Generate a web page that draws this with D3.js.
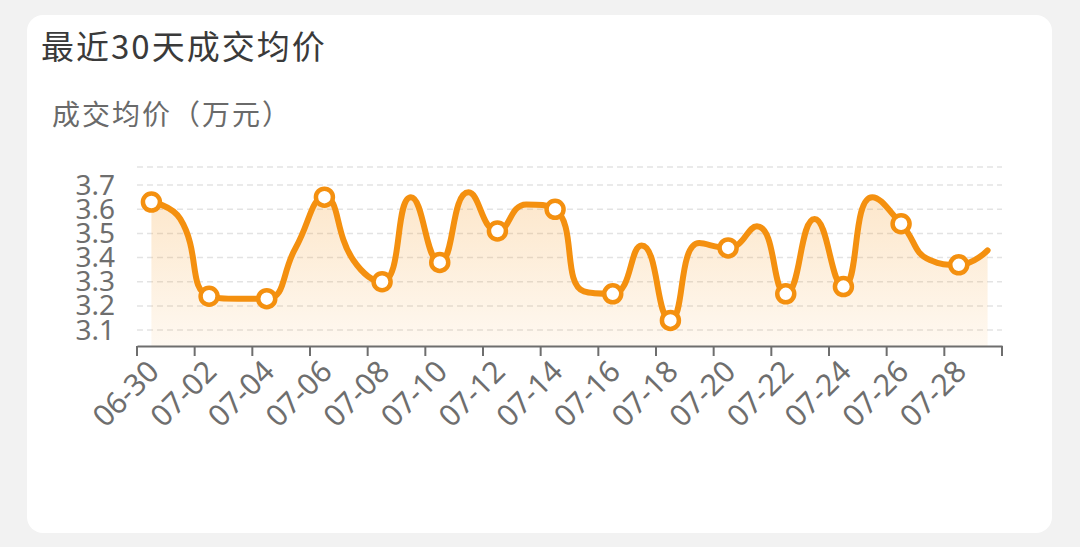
<!DOCTYPE html>
<html>
<head>
<meta charset="utf-8">
<script src="https://cdn.jsdelivr.net/npm/d3@7"></script>
<style>
  html, body { margin: 0; padding: 0; background: #f2f2f2; }
  svg { display: block; font-family: "Noto Sans CJK SC", "Noto Sans", sans-serif; }
</style>
</head>
<body>
<div id="chart"></div>
<script>
// data
const dates = ['06-30', '07-01', '07-02', '07-03', '07-04', '07-05', '07-06', '07-07',
    '07-08', '07-09', '07-10', '07-11', '07-12', '07-13', '07-14', '07-15', '07-16',
    '07-17', '07-18', '07-19', '07-20', '07-21', '07-22', '07-23', '07-24', '07-25',
    '07-26', '07-27', '07-28', '07-29'];
const prices = [3.63, 3.56, 3.24, 3.23, 3.23, 3.44, 3.65, 3.39, 3.30, 3.65, 3.38, 3.67,
    3.51, 3.62, 3.60, 3.26, 3.25, 3.45, 3.14, 3.46, 3.44, 3.53, 3.25, 3.56, 3.28, 3.65,
    3.54, 3.39, 3.37, 3.43];
const yTicks = [3.1, 3.2, 3.3, 3.4, 3.5, 3.6, 3.7];
const yDomain = [3.034, 3.775];

const width = 1080, height = 547;
const orange = '#f4900f';

// smooth curve in the style of echarts (control points clamped to neighbours)
function SmoothCurve(context) { this._context = context; }
SmoothCurve.prototype = {
    areaStart() { this._line = 0; },
    areaEnd() { this._line = NaN; },
    lineStart() { this._pts = []; },
    point(x, y) { this._pts.push([+x, +y]); },
    lineEnd() {
        const pts = this._pts, ctx = this._context, s = 0.5;
        const n = pts.length;
        if (n) {
            if (this._line) ctx.lineTo(pts[0][0], pts[0][1]);
            else ctx.moveTo(pts[0][0], pts[0][1]);
        }
        let cp0 = pts[0];
        for (let i = 1; i < n; i++) {
            const [x, y] = pts[i];
            const [px, py] = pts[i - 1];
            let cp1 = [x, y], next0 = [x, y];
            if (i < n - 1) {
                const [nx, ny] = pts[i + 1];
                const d0 = Math.hypot(x - px, y - py) || 1e-6;
                const d1 = Math.hypot(nx - x, ny - y) || 1e-6;
                const vx = nx - px, vy = ny - py;
                const r = d1 / (d0 + d1);
                let cx = x + vx * s * r, cy = y + vy * s * r;
                cx = Math.max(Math.min(cx, Math.max(nx, x)), Math.min(nx, x));
                cy = Math.max(Math.min(cy, Math.max(ny, y)), Math.min(ny, y));
                let bx = x - (cx - x) * d0 / d1, by = y - (cy - y) * d0 / d1;
                bx = Math.max(Math.min(bx, Math.max(px, x)), Math.min(px, x));
                by = Math.max(Math.min(by, Math.max(py, y)), Math.min(py, y));
                cp1 = [bx, by];
                next0 = [x + (x - bx) * d1 / d0, y + (y - by) * d1 / d0];
            }
            ctx.bezierCurveTo(cp0[0], cp0[1], cp1[0], cp1[1], x, y);
            cp0 = next0;
        }
        if (this._line || (this._line !== 0 && n === 1)) ctx.closePath();
        this._line = 1 - this._line;
    }
};
const smoothCurve = context => new SmoothCurve(context);

const svg = d3.select('#chart').append('svg')
    .attr('width', width)
    .attr('height', height);

// card
svg.append('rect')
    .attr('x', 27).attr('y', 15)
    .attr('width', 1025).attr('height', 518)
    .attr('rx', 16)
    .attr('fill', '#fff');

svg.append('text')
    .attr('x', 41).attr('y', 59)
    .attr('font-size', 33)
    .attr('letter-spacing', 2)
    .attr('fill', '#3a3a3a')
    .text('最近30天成交均价');

svg.append('text')
    .attr('x', 52).attr('y', 125)
    .attr('font-size', 28)
    .attr('letter-spacing', 2)
    .attr('fill', '#6a6a6a')
    .text('成交均价（万元）');

const x = d3.scaleBand().domain(dates).range([137, 1002]);
const y = d3.scaleLinear().domain(yDomain).range([346, 167]);
const bw = x.bandwidth();
const cx = d => x(d) + bw / 2;

// dashed grid
svg.append('g')
    .selectAll('line')
    .data(yTicks.concat([yDomain[1]]))
    .join('line')
    .attr('x1', 137).attr('x2', 1002)
    .attr('y1', d => y(d)).attr('y2', d => y(d))
    .attr('stroke', '#e3e3e3')
    .attr('stroke-width', 1.5)
    .attr('stroke-dasharray', '6 4');

// area gradient
const grad = svg.append('defs').append('linearGradient')
    .attr('id', 'fade')
    .attr('x1', 0).attr('y1', 0).attr('x2', 0).attr('y2', 1);
grad.append('stop').attr('offset', '0%').attr('stop-color', orange).attr('stop-opacity', 0.22);
grad.append('stop').attr('offset', '100%').attr('stop-color', orange).attr('stop-opacity', 0.06);

const area = d3.area()
    .x((d, i) => cx(dates[i]))
    .y0(y(yDomain[0]))
    .y1(d => y(d))
    .curve(smoothCurve);

const line = d3.line()
    .x((d, i) => cx(dates[i]))
    .y(d => y(d))
    .curve(smoothCurve);

svg.append('path')
    .datum(prices)
    .attr('d', area)
    .attr('fill', 'url(#fade)');

// y axis labels only
const yAxis = svg.append('g')
    .attr('transform', 'translate(137,0)')
    .call(d3.axisLeft(y).tickValues(yTicks).tickSize(0).tickPadding(22).tickFormat(d3.format('.1f')));
yAxis.select('.domain').remove();
yAxis.selectAll('text')
    .attr('font-size', 28)
    .attr('font-family', '"Noto Sans", sans-serif')
    .attr('fill', '#6e6e6e');

// x axis: ticks on band boundaries, labels at band centres
const xAxis = svg.append('g')
    .attr('transform', 'translate(0,346)')
    .call(d3.axisBottom(x)
        .tickValues(dates.filter((d, i) => i % 2 === 0))
        .tickSize(10)
        .tickSizeOuter(0));
xAxis.select('.domain').attr('stroke', '#6e6e6e').attr('stroke-width', 2);
xAxis.selectAll('.tick line')
    .attr('stroke', '#6e6e6e').attr('stroke-width', 2)
    .attr('transform', `translate(${-bw / 2},0)`);
xAxis.append('line')
    .attr('x1', x.range()[1]).attr('x2', x.range()[1])
    .attr('y1', 0).attr('y2', 10)
    .attr('stroke', '#6e6e6e').attr('stroke-width', 2);
xAxis.selectAll('.tick text')
    .attr('font-size', 30)
    .attr('font-family', '"Noto Sans", sans-serif')
    .attr('fill', '#6e6e6e')
    .attr('text-anchor', 'end')
    .attr('x', 0).attr('y', 0).attr('dy', '0.35em')
    .attr('transform', 'translate(2,20) rotate(-45)');

svg.append('path')
    .datum(prices)
    .attr('d', line)
    .attr('fill', 'none')
    .attr('stroke', orange)
    .attr('stroke-width', 6)
    .attr('stroke-linejoin', 'round')
    .attr('stroke-linecap', 'round');

// symbols on every other point
svg.append('g')
    .selectAll('circle')
    .data(prices.map((v, i) => ({ date: dates[i], v })).filter((d, i) => i % 2 === 0))
    .join('circle')
    .attr('cx', d => cx(d.date))
    .attr('cy', d => y(d.v))
    .attr('r', 8.5)
    .attr('fill', '#fff')
    .attr('stroke', orange)
    .attr('stroke-width', 4.5);
</script>
</body>
</html>
